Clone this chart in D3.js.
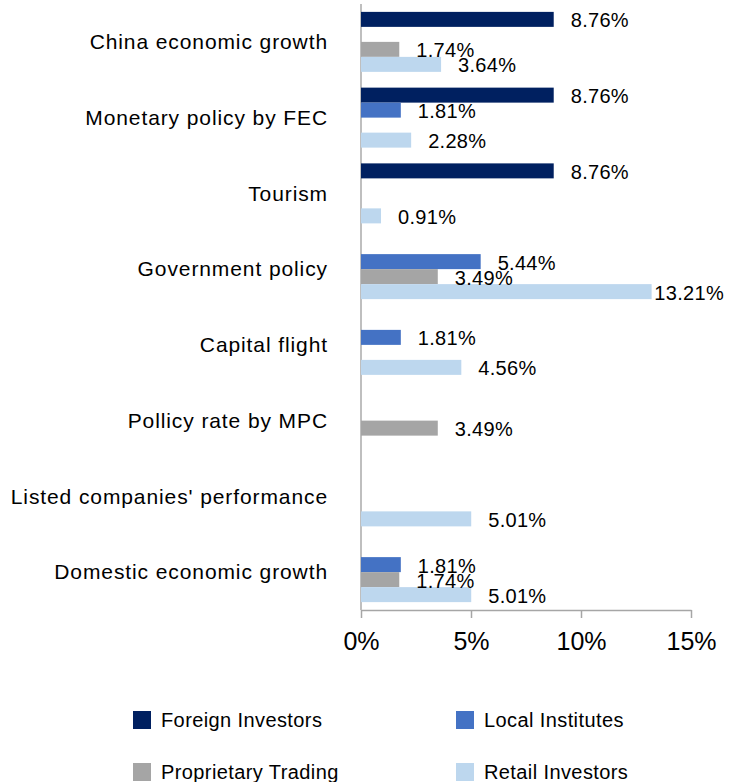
<!DOCTYPE html>
<html>
<head>
<meta charset="utf-8">
<script src="https://cdn.jsdelivr.net/npm/d3@7"></script>
<style>
	body { margin:0; background:#fff; }
	text { font-family: "Liberation Sans", Arial, sans-serif; fill:#000; }
</style>
</head>
<body>
<div id="chart"></div>
<script>

//data
const categories = ["China economic growth", "Monetary policy by FEC", "Tourism", "Government policy",
	"Capital flight", "Pollicy rate by MPC", "Listed companies' performance", "Domestic economic growth"];
const seriesNames = ["Foreign Investors", "Local Institutes", "Proprietary Trading", "Retail Investors"];
const foreignInvestors = [8.76, 8.76, 8.76, null, null, null, null, null];
const localInstitutes = [null, 1.81, null, 5.44, 1.81, null, null, 1.81];
const proprietaryTrading = [1.74, null, null, 3.49, null, 3.49, null, 1.74];
const retailInvestors = [3.64, 2.28, 0.91, 13.21, 4.56, null, 5.01, 5.01];
const xTicks = [0, 5, 10, 15];

const seriesValues = [foreignInvestors, localInstitutes, proprietaryTrading, retailInvestors];
const color = ["#002060", "#4472c4", "#a5a5a5", "#bdd7ee"];

function graph(){

	//sizing
	let width = 741;
	let height = 782;
	let margin = {top:4, right:50, bottom:172, left:361};

	let svg = d3.select("#chart")
		.append("svg")
		.attr("width", width)
		.attr("height", height);

	//scales
	const xScale = d3.scaleLinear()
		.domain([0, 15])
		.range([margin.left, width-margin.right]);

	const yScale = d3.scaleBand()
		.domain(categories)
		.range([margin.top, height-margin.bottom])
		.paddingInner(0.208)
		.paddingOuter(0.104);

	const ySub = d3.scaleBand()
		.domain(seriesNames)
		.range([0, yScale.bandwidth()]);

	//x axis
	const xAxis = d3.axisBottom(xScale)
		.tickValues(xTicks)
		.tickSize(8)
		.tickSizeOuter(0)
		.tickFormat((d)=>{return d+"%";});

	let gx = svg.append("g")
		.attr("class", "axis x_axis")
		.attr("transform", `translate(0,${height-margin.bottom})`)
		.call(xAxis);

	gx.select(".domain").attr("stroke", "#a6a6a6").attr("stroke-width", 1.5);
	gx.selectAll(".tick line").attr("stroke", "#a6a6a6").attr("stroke-width", 1.5);
	gx.selectAll(".tick text")
		.attr("y", 22)
		.attr("dy", "0.71em")
		.style("font-size", "25px")
		.style("font-family", "'Liberation Sans', Arial, sans-serif")
		.attr("fill", "#000");

	//y axis line
	svg.append("line")
		.attr("x1", xScale(0))
		.attr("x2", xScale(0))
		.attr("y1", margin.top)
		.attr("y2", height-margin.bottom)
		.attr("stroke", "#bfbfbf")
		.attr("stroke-width", 2);

	//category labels
	svg.selectAll(".cat")
		.data(categories)
		.enter()
		.append("text")
		.attr("class", "cat")
		.attr("x", 328)
		.attr("y", (d)=>{return yScale(d)+yScale.bandwidth()/2;})
		.attr("dy", "0.35em")
		.style("text-anchor", "end")
		.style("font-size", "21px")
		.style("letter-spacing", "0.9px")
		.text((d)=>{return d;});

	//bars per series
	seriesNames.forEach((name, s)=>{
		let rows = categories.map((c, i)=>{return {cat:c, v:seriesValues[s][i]};})
			.filter((d)=>{return d.v !== null;});

		svg.selectAll(".bar-"+s)
			.data(rows)
			.enter()
			.append("rect")
			.attr("class", "bar-"+s)
			.attr("x", xScale(0))
			.attr("y", (d)=>{return yScale(d.cat)+ySub(name);})
			.attr("width", (d)=>{return xScale(d.v)-xScale(0);})
			.attr("height", ySub.bandwidth())
			.attr("fill", color[s]);
	});

	//value labels
	seriesNames.forEach((name, s)=>{
		let rows = categories.map((c, i)=>{return {cat:c, v:seriesValues[s][i]};})
			.filter((d)=>{return d.v !== null;});

		svg.selectAll(".lab-"+s)
			.data(rows)
			.enter()
			.append("text")
			.attr("class", "lab-"+s)
			.attr("x", (d)=>{return xScale(d.v)+17;})
			.attr("y", (d)=>{return yScale(d.cat)+ySub(name)+ySub.bandwidth()/2+1;})
			.attr("dy", "0.35em")
			.style("font-size", "20px")
			.style("letter-spacing", "0.3px")
			.text((d)=>{return d3.format(".2f")(d.v)+"%";})
			.each(function(){
				//keep label inside the chart
				let w = this.getComputedTextLength();
				let x = +d3.select(this).attr("x");
				if (x + w > 724) d3.select(this).attr("x", 724 - w);
			});
	});

	//legend
	const legendPos = [[133, 711], [456, 711], [133, 763], [456, 763]];

	let legend = svg.selectAll(".legend")
		.data(seriesNames)
		.enter()
		.append("g")
		.attr("class", "legend")
		.attr("transform", (d, i)=>{return `translate(${legendPos[i][0]},${legendPos[i][1]})`;});

	legend.append("rect")
		.attr("width", 18)
		.attr("height", 18)
		.attr("fill", (d, i)=>{return color[i];});

	legend.append("text")
		.attr("x", 28)
		.attr("y", 9)
		.attr("dy", "0.35em")
		.style("font-size", "20px")
		.style("letter-spacing", "0.4px")
		.text((d)=>{return d;});

}

graph();
</script>
</body>
</html>
